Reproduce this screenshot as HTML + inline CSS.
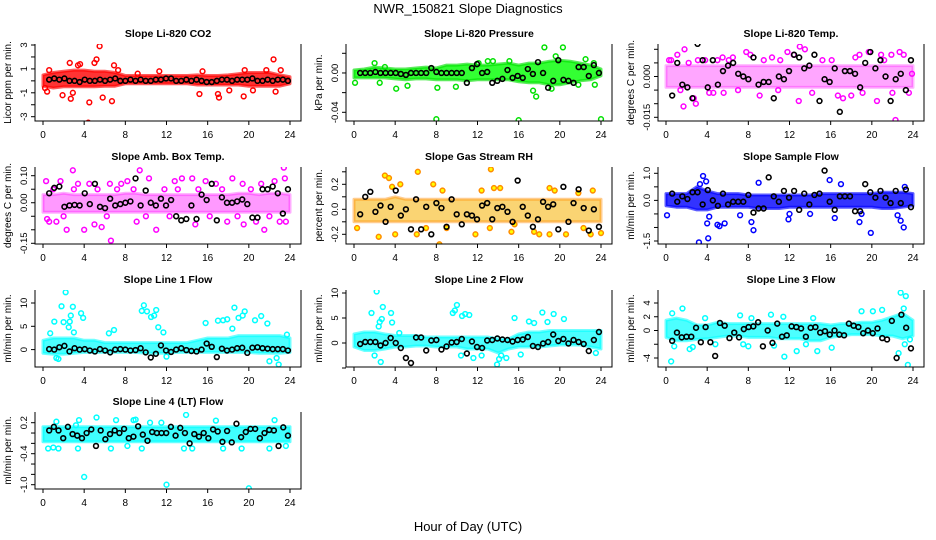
<!DOCTYPE html>
<html><head><meta charset="utf-8"><style>
body{margin:0;background:#fff;}
svg{display:block;font-family:"Liberation Sans",sans-serif;}
</style></head><body>
<svg id="c" width="936" height="540" viewBox="0 0 936 540">
<text x="468" y="13" text-anchor="middle" font-size="13">NWR_150821  Slope Diagnostics</text>
<text x="468" y="531" text-anchor="middle" font-size="13">Hour of Day (UTC)</text>
</svg>
<script>
// ---- data (values per panel) ----
const xTicks=[0,4,8,12,16,20,24];
// P1 CO2
const co2Hi=[0.5,0.7,0.8,0.9,0.9,0.8,0.8,0.7,0.45,0.45,0.45,0.45,0.45,0.45,0.45,0.5,0.45,0.45,0.5,0.6,0.7,0.7,0.7,0.5,0.35];
const co2Lo=[-0.45,-0.6,-0.5,-0.5,-0.5,-0.5,-0.45,-0.45,-0.25,-0.25,-0.25,-0.25,-0.25,-0.25,-0.25,-0.35,-0.35,-0.35,-0.35,-0.35,-0.45,-0.45,-0.45,-0.45,-0.25];
const co2PtT=[0.2,0.4,0.6,1.9,2.6,2.7,2.9,3.4,3.6,4.4,4.5,5.0,5.2,5.5,5.8,6.7,6.9,7.3,11.3,15.2,15.5,17.0,17.1,18.1,19.5,19.6,21.7,22.4,22.6,23.1,20.4,9.2];
const co2PtV=[-0.6,-0.9,0.9,-1.2,1.5,-1.5,-1.0,1.3,1.4,-3.5,-1.8,1.5,1.8,2.9,-1.4,-1.7,1.3,0.9,0.8,-1.1,0.8,-1.1,-1.4,-0.8,-1.3,0.9,0.9,1.8,-0.9,0.9,-0.8,0.6];
const co2Blk=[0.1,0.2,0.1,0.2,0.0,0.0,-0.1,0.1,0.0,0.0,0.1,0.0,0.1,0.2,0.0,0.0,0.1,0.0,0.1,0.0,0.0,0.1,0.1,0.2,0.2,0.0,0.0,0.1,0.0,0.1,0.0,-0.1,-0.1,0.0,0.1,0.1,0.0,0.1,0.1,0.1,0.2,0.0,0.0,0.1,0.0,0.1,0.1,0.0];
// P2 Pressure
const prsHi=[0.003,0.004,0.006,0.005,0.004,0.004,0.005,0.006,0.005,0.008,0.008,0.009,0.008,0.008,0.009,0.01,0.008,0.01,0.01,0.012,0.013,0.012,0.01,0.008,0.004];
const prsLo=[-0.005,-0.005,-0.005,-0.005,-0.006,-0.007,-0.006,-0.006,-0.007,-0.007,-0.007,-0.008,-0.007,-0.007,-0.007,-0.007,-0.009,-0.01,-0.01,-0.012,-0.012,-0.01,-0.008,-0.007,-0.003];
const prsPtT=[0.1,2.0,3.0,2.5,4.1,5.2,8.0,8.1,9.9,12.1,13.0,13.5,15.1,16.0,17.4,17.7,18.5,19.6,20.3,19.2,22.5,23.3,24.0,21.8,23.4];
const prsPtV=[-0.01,0.01,0.006,-0.01,-0.016,-0.013,-0.047,-0.015,-0.014,0.01,0.012,0.012,0.012,-0.048,-0.018,-0.024,0.026,0.017,0.026,-0.016,0.014,0.01,-0.047,-0.012,-0.012];
const prsBlk=[0,0,0,0.001,0,0,0,0,-0.001,-0.002,0,0,0,0,0.005,0.001,0,0,0,0,0,-0.01,0.005,0.009,0,0.001,-0.01,-0.008,-0.006,0.003,-0.005,-0.003,-0.005,0.004,-0.001,0.011,0,-0.015,-0.008,0.013,-0.007,-0.008,-0.01,0.006,0.006,-0.003,0.008,0];
// P3 Li-820 Temp
const tmpHi=[0.004,0.004,0.004,0.004,0.004,0.004,0.004,0.004,0.004,0.004,0.004,0.004,0.004,0.004,0.004,0.004,0.004,0.004,0.004,0.004,0.004,0.004,0.004,0.004,0.004];
const tmpLo=[-0.004,-0.004,-0.004,-0.004,-0.004,-0.004,-0.004,-0.004,-0.004,-0.004,-0.004,-0.004,-0.004,-0.004,-0.004,-0.004,-0.004,-0.004,-0.004,-0.004,-0.004,-0.004,-0.004,-0.004,-0.004];
const tmpPtT=[0.5,1.1,1.8,1.4,1.7,2.7,2.9,3.8,4.6,5.5,5.6,6.5,7.8,8.2,9.1,10.3,10.9,11.8,12.4,12.9,13.0,13.5,16.7,17.2,18.8,18.0,19.7,20.5,20.9,21.9,22.3,22.7,23.1,23.6,23.9,0.3,2.2,3.1,4.2,5.0,6.1,7.0,9.5,11.1,14.2,15.2,16.1,18.4,19.1,21.2,22.0];
const tmpPtV=[0.006,0.008,0.010,-0.005,-0.011,-0.008,-0.010,0.006,-0.006,0.007,-0.006,0.007,0.009,0.008,-0.007,0.007,-0.005,0.009,0.008,-0.009,0.011,0.010,-0.007,-0.008,0.008,-0.007,0.009,-0.009,0.008,0.008,-0.016,0.009,0.008,-0.006,0.001,0.006,0.005,0.006,-0.006,0.006,0.006,-0.005,0.006,0.006,-0.006,0.006,0.006,0.007,-0.006,0.006,-0.006];
const tmpBlk=[-0.007,0.005,-0.003,-0.004,-0.008,0.012,0.006,-0.004,0.006,-0.003,0.002,0.004,0.005,0.001,0.000,-0.001,0.007,-0.003,-0.002,-0.002,-0.008,0.000,-0.001,0.002,0.008,0.007,0.003,0.004,0.008,-0.009,-0.001,-0.002,0.003,-0.013,0.002,0.002,0.001,-0.004,0.005,0.009,0.003,0.006,0.000,-0.009,-0.001,0.001,-0.005,0.006];
// P4 Amb Box Temp
const ambHi=[0.03,0.03,0.035,0.03,0.03,0.03,0.03,0.03,0.035,0.035,0.03,0.03,0.03,0.03,0.03,0.03,0.03,0.03,0.03,0.035,0.035,0.03,0.035,0.035,0.03];
const ambLo=[-0.035,-0.035,-0.035,-0.035,-0.035,-0.035,-0.035,-0.035,-0.035,-0.035,-0.035,-0.035,-0.035,-0.035,-0.035,-0.035,-0.035,-0.035,-0.035,-0.035,-0.035,-0.035,-0.035,-0.035,-0.035];
const ambPtT=[0.3,0.4,0.6,1.3,1.7,2.3,2.9,3.4,4.0,4.5,5.0,5.7,6.6,6.5,7.6,8.2,9.4,9.1,10.3,11.0,12.8,13.5,14.5,14.8,15.8,16.8,17.9,18.4,19.4,19.5,20.7,21.5,21.2,22.5,23.0,23.4,23.5,23.6,1.0,2.0,3.0,5.3,6.2,7.2,8.8,10.0,11.8,12.3,13.1,15.1,16.2,17.4,18.9,20.2,22.0];
const ambPtV=[0.08,-0.06,-0.07,-0.07,0.08,-0.1,0.12,0.07,-0.1,0.07,-0.08,-0.09,-0.14,0.07,0.07,0.08,0.12,-0.07,0.09,-0.1,0.08,0.09,0.09,-0.08,0.08,0.07,-0.07,0.09,0.07,-0.08,-0.07,-0.1,0.07,0.08,-0.07,0.13,0.09,-0.07,0.05,-0.05,0.05,0.05,-0.05,0.05,0.05,-0.05,0.05,-0.05,0.05,0.05,-0.05,0.05,-0.05,0.05,-0.05];
const ambBlk=[0.035,0.055,0.06,-0.015,-0.01,-0.008,-0.01,0.035,-0.005,0.07,-0.015,-0.02,0.015,-0.01,-0.005,0.0,0.005,0.09,-0.01,0.045,0.0,-0.01,0.015,-0.01,0.01,-0.05,-0.065,-0.06,-0.01,-0.06,0.03,0.01,0.07,-0.065,0.02,0.0,0.0,0.005,0.012,-0.005,-0.055,-0.055,0.05,0.05,0.06,0.035,-0.04,0.05];
// P5 Gas Stream RH
const rhHi=[0.08,0.08,0.08,0.08,0.1,0.08,0.08,0.08,0.08,0.08,0.08,0.08,0.08,0.08,0.08,0.08,0.08,0.08,0.08,0.08,0.08,0.08,0.08,0.08,0.08];
const rhLo=[-0.1,-0.1,-0.1,-0.1,-0.1,-0.1,-0.1,-0.1,-0.1,-0.1,-0.1,-0.1,-0.1,-0.1,-0.1,-0.1,-0.1,-0.1,-0.1,-0.1,-0.1,-0.1,-0.1,-0.1,-0.1];
const rhPtT=[0.3,2.4,3.0,3.4,3.7,4.5,4.0,6.2,6.1,7.0,7.7,8.3,8.6,9.0,11.8,12.4,13.3,13.2,13.6,14.2,15.3,15.6,17.5,18.0,19.0,19.5,19.0,20.6,21.8,22.3,23.0,23.2,24.0];
const rhPtV=[-0.15,-0.22,0.27,0.25,0.18,0.2,-0.2,0.3,-0.2,-0.15,0.2,-0.28,0.15,-0.15,-0.2,0.15,0.32,-0.15,0.17,0.17,-0.18,-0.12,-0.18,-0.2,0.17,0.15,-0.2,-0.2,0.13,-0.15,-0.2,0.15,-0.19];
const rhBlk=[-0.04,0.1,0.14,-0.02,0.03,-0.1,0.02,0.15,-0.05,0.0,-0.16,0.08,-0.16,0.02,-0.2,0.05,0.01,-0.14,0.08,-0.04,-0.12,-0.04,-0.05,-0.08,0.03,0.05,-0.08,0.01,0.02,-0.02,-0.1,0.23,0.02,-0.05,-0.14,-0.08,0.06,0.02,0.04,-0.16,0.18,-0.1,0.05,0.16,0.01,-0.17,0.0,-0.14];
// P6 Sample Flow
const smpHi=[0.25,0.25,0.25,0.5,0.35,0.25,0.25,0.25,0.2,0.2,0.2,0.2,0.2,0.2,0.2,0.25,0.25,0.25,0.25,0.25,0.25,0.3,0.3,0.3,0.25];
const smpLo=[-0.2,-0.25,-0.25,-0.35,-0.35,-0.25,-0.25,-0.25,-0.25,-0.3,-0.3,-0.3,-0.25,-0.25,-0.25,-0.25,-0.25,-0.25,-0.25,-0.25,-0.25,-0.3,-0.3,-0.25,-0.2];
const smpPtT=[0.1,3.2,3.3,3.6,3.9,4.0,4.1,4.2,5.0,5.2,5.7,7.2,8.3,8.5,9.0,11.9,12.0,14.0,15.9,16.4,17.0,18.8,19.0,19.9,22.5,22.8,23.1,23.2];
const smpPtV=[-0.55,-1.55,0.6,0.9,0.7,-0.85,-1.4,-0.6,-0.9,-0.95,-0.85,-0.55,-0.8,-1.1,0.65,-0.7,-0.5,-0.5,0.75,-0.65,0.6,-0.8,-0.5,-1.2,-0.55,-0.75,-1.0,0.5];
const smpBlk=[0.25,-0.05,0.15,0.05,0.3,0.3,-0.15,0.38,0.0,-0.2,0.25,-0.15,-0.05,-0.05,-0.05,0.2,-0.45,-0.3,-0.3,0.85,0.15,-0.05,0.35,0.1,0.35,-0.35,0.25,-0.15,0.2,0.25,1.1,-0.05,-0.35,0.15,0.15,0.15,-0.4,-0.4,0.6,0.3,0.1,0.35,0.1,-0.1,0.35,-0.1,0.4,-0.25];
// P7 Line 1 Flow
const l1Hi=[2,2.5,2.5,2.5,2,2,1.5,1.5,1.5,1.5,1.5,1.5,1.5,1.5,1.5,2,2.5,2.5,2.5,3,3,3,3,3,2.5];
const l1Lo=[-0.8,-1,-1,-0.8,-0.6,-0.6,-0.6,-0.6,-0.6,-0.6,-0.8,-0.8,-0.8,-0.6,-0.6,-0.6,-0.6,-0.6,-0.6,-0.6,-0.6,-0.8,-0.8,-0.8,-0.6];
const l1PtT=[0.7,1.1,1.3,1.5,1.8,2.0,2.2,2.5,2.6,2.7,2.9,3.0,3.7,3.9,6.4,6.9,9.6,9.8,10.1,10.5,10.8,11.0,11.2,11.7,12.0,15.8,17.0,17.5,17.9,18.4,18.6,19.0,19.4,19.6,20.6,21.2,21.8,22.0,22.7,22.9,23.7];
const l1PtV=[3.5,6,-1.8,-2,9.3,5.9,12.3,4.8,6,7.3,9.2,3.7,7.8,6.8,3.5,4.2,8.3,9.5,8.2,7,7.3,8.5,4.8,3.7,-1.5,5.7,6.2,6.3,6.5,4.5,9,6.8,7.3,8.2,6.3,7.2,5.6,-2.5,-1.8,-3.2,3.2];
const l1Blk=[0.1,0,0.5,0.8,-0.4,0.3,0,0.1,-0.2,-0.4,0.1,-0.2,-0.6,0,0.1,0,-0.2,-0.1,0.3,-0.6,-1.7,-0.9,0.9,-0.2,-0.5,0,0.3,-0.1,-0.3,-0.4,0,1.3,0.6,-1.6,0.2,-0.2,0,0.3,0.4,-0.7,0.4,0.5,0.3,0.2,0.1,0.1,0.1,-0.2];
// P8 Line 2 Flow
const l2Hi=[1.8,2.2,2.2,1.8,1.5,1.5,1.5,1.2,1.2,1.2,1.2,1.2,1.2,1.2,0.8,0.8,1.8,2.2,2.2,2.5,2.5,2.5,2.5,2.5,2.5];
const l2Lo=[-0.8,-1.5,-1.5,-1.2,-0.8,-0.8,-0.6,-0.6,-0.8,-0.8,-0.8,-1.2,-1.2,-1.2,-2,-1.2,-0.8,-0.8,-0.8,-0.6,-0.4,-0.4,-0.4,-0.8,-1.2];
const l2PtT=[1.7,2.0,2.2,2.4,2.5,2.7,2.8,2.6,3.6,3.7,4.4,9.6,9.8,10.0,10.5,10.8,11.2,10.4,11.6,12.4,13.9,14.1,14.3,14.8,15.6,16.2,17.0,17.5,18.3,18.8,19.4,20.4,23.5];
const l2PtV=[6,-2.5,10.3,3.3,4.2,4.8,7.2,-3.8,6,4.1,2,6,6.5,7.6,5.4,5.8,5.6,-2.5,-3,-2.5,-4.3,-3.2,-2.5,-3,5,-2.3,4.3,4,6.1,4.2,5.8,4.8,-2];
const l2Blk=[-0.2,0.2,0.2,0.2,-0.5,0,1,0,-1,-3,-4,1.1,1.1,-1.5,0.5,0.6,-1.3,-0.7,0.1,0.2,0.8,-2.1,0.3,-0.8,-1,0.5,0.6,0.9,0.7,0.6,0.3,0.6,0.7,1.2,-0.6,-0.8,-0.1,0.2,1.7,0.4,0.8,-0.1,0.6,0.2,-0.2,-1.6,0.6,2.2];
// P9 Line 3 Flow
const l3Hi=[1.5,1.8,1.5,0.8,0.8,1.2,1,1,1,1,1,1,1,1,1,1,0.8,1,1,1.2,1.2,1.5,2,2.5,1.5];
const l3Lo=[-1,-1.5,-1.5,-1.3,-1.2,-1,-0.8,-0.8,-1,-1,-1,-1.2,-1.2,-1.2,-1.5,-1.5,-1,-0.8,-0.6,-0.6,-0.6,-0.8,-0.8,-1.2,-0.8];
const l3PtT=[0.5,0.6,0.8,1.6,2.3,2.6,3.8,4.8,7.2,7.5,8.0,8.3,10.2,10.5,11.4,11.5,12.7,13.6,14.3,14.7,16.1,19.0,20.1,21.0,22.8,23.1,23.3,22.6,23.5,23.2,23.7];
const l3PtV=[-4.5,2.5,-2.3,3.2,-2.7,-2.4,1.8,-2,2.2,-2,-2.3,1.8,2.3,-2.2,2,-3.8,-3,-2,1.8,-3,-2.5,2.8,2.8,3,5.5,3.2,5,-3.3,-5,-2,-1.3];
const l3Blk=[-1.5,-0.3,-1,-0.9,-0.9,0.4,-1.7,0.5,-1.7,-3.7,1.1,0.7,-1.1,-0.3,-1,0.2,0.5,0.6,1.2,-2.3,0,-1.8,1,-0.9,-0.7,0.6,0.5,0.3,-0.9,0.4,0.5,-0.3,-0.1,-0.6,0,-0.6,-0.7,1,0.7,0.5,-0.4,0,-0.4,0.3,-1.1,-1.3,1.4,-4,2.3,0.4,-2.6];
// P10 Line 4 (LT) Flow
const l4Hi=[0.12,0.12,0.12,0.12,0.12,0.12,0.12,0.12,0.12,0.12,0.12,0.12,0.12,0.12,0.12,0.12,0.12,0.12,0.12,0.12,0.12,0.12,0.12,0.12,0.12];
const l4Lo=[-0.17,-0.17,-0.17,-0.17,-0.17,-0.17,-0.17,-0.17,-0.17,-0.17,-0.17,-0.17,-0.17,-0.17,-0.17,-0.17,-0.17,-0.17,-0.17,-0.17,-0.17,-0.17,-0.17,-0.17,-0.17];
const l4PtT=[0.5,1.0,1.5,1.3,3.2,3.5,3.4,4.0,5.2,6.6,7.1,8.2,8.8,9.0,9.6,10.4,12.0,11.5,13.9,13.7,14.5,16.8,17.5,19.3,20.0,22.0,22.5,23.6];
const l4PtV=[-0.3,-0.28,-0.3,0.22,0.15,0.25,-0.3,-0.85,0.3,-0.3,0.25,-0.25,0.25,0.26,-0.3,0.2,-1.0,0.2,0.35,-0.3,-0.3,0.24,-0.3,-0.3,-1.07,-0.3,0.25,-0.25];
const l4Blk=[0.05,0.12,0.05,-0.1,0.12,-0.02,-0.05,-0.1,0.0,0.07,-0.25,0.05,-0.12,-0.02,0.05,0.0,0.08,-0.1,-0.07,0.13,-0.03,-0.15,0.02,0.0,0.0,0.0,0.12,-0.05,0.1,0.0,-0.2,-0.02,-0.07,0.0,-0.1,0.07,0.03,-0.17,0.04,-0.18,0.18,-0.08,0.02,0.08,0.08,-0.1,0.0,0.06,0.05,-0.25,0.11,-0.05];

const panels=[
 {title:"Slope Li-820 CO2",yl:"Licor ppm per min.",col:"#ff0000",fill:"#ff0000",op:0.8,hi:co2Hi,lo:co2Lo,pt:co2PtT,pv:co2PtV,blk:co2Blk,c:0,r:0,a:[3,45],b:[-3,116.7],ticks:[3,2,1,0,-1,-2,-3],labs:[3,1,-1,-3],fmt:v=>v<0?"-"+(-v):""+v},
 {title:"Slope Li-820 Pressure",yl:"kPa per min.",col:"#00e000",fill:"#00ff00",op:0.8,hi:prsHi,lo:prsLo,pt:prsPtT,pv:prsPtV,blk:prsBlk,c:1,r:0,a:[0.02,53.3],b:[-0.04,112.3],ticks:[0.02,0,-0.02,-0.04],labs:[0,-0.04],fmt:v=>f(v,2)},
 {title:"Slope Li-820 Temp.",yl:"degrees C per min.",col:"#ff00ff",fill:"#ff00ff",op:0.35,hi:tmpHi,lo:tmpLo,pt:tmpPtT,pv:tmpPtV,blk:tmpBlk,c:2,r:0,a:[0.01,49.3],b:[-0.015,117.3],ticks:[0.01,0.005,0,-0.005,-0.01,-0.015],labs:[0,-0.015],fmt:v=>f(v,3)},
 {title:"Slope Amb. Box Temp.",yl:"degrees C per min.",col:"#ff00ff",fill:"#ff00ff",op:0.4,hi:ambHi,lo:ambLo,pt:ambPtT,pv:ambPtV,blk:ambBlk,c:0,r:1,a:[0.1,175.7],b:[-0.15,243.3],ticks:[0.1,0.05,0,-0.05,-0.1,-0.15],labs:[0.1,0,-0.15],fmt:v=>f(v,2)},
 {title:"Slope Gas Stream RH",yl:"percent per min.",col:"#ff8c00",fill:"#f5b000",op:0.55,hi:rhHi,lo:rhLo,pt:rhPtT,pv:rhPtV,blk:rhBlk,c:1,r:1,a:[0.2,184.3],b:[-0.2,234.3],ticks:[0.3,0.2,0.1,0,-0.1,-0.2],labs:[0.2,0,-0.2],fmt:v=>f(v,1)},
 {title:"Slope Sample Flow",yl:"ml/min per min.",col:"#0000ff",fill:"#0000ff",op:0.8,hi:smpHi,lo:smpLo,pt:smpPtT,pv:smpPtV,blk:smpBlk,c:2,r:1,a:[1,173.3],b:[-1.5,241],ticks:[1,0.5,0,-0.5,-1,-1.5],labs:[1,0,-1.5],fmt:v=>f(v,1)},
 {title:"Slope Line 1 Flow",yl:"ml/min per min.",col:"#00ffff",fill:"#00ffff",op:0.7,hi:l1Hi,lo:l1Lo,pt:l1PtT,pv:l1PtV,blk:l1Blk,c:0,r:2,a:[10,303],b:[0,349.6],ticks:[10,5,0],labs:[10,5,0],fmt:v=>""+v},
 {title:"Slope Line 2 Flow",yl:"ml/min per min.",col:"#00ffff",fill:"#00ffff",op:0.7,hi:l2Hi,lo:l2Lo,pt:l2PtT,pv:l2PtV,blk:l2Blk,c:1,r:2,a:[10,293],b:[0,343],ticks:[10,5,0,-5],labs:[10,5,0],fmt:v=>""+v},
 {title:"Slope Line 3 Flow",yl:"ml/min per min.",col:"#00ffff",fill:"#00ffff",op:0.7,hi:l3Hi,lo:l3Lo,pt:l3PtT,pv:l3PtV,blk:l3Blk,c:2,r:2,a:[4,303],b:[-4,358],ticks:[4,2,0,-2,-4],labs:[4,2,0,-4],fmt:v=>v<0?"-"+(-v):""+v},
 {title:"Slope Line 4 (LT) Flow",yl:"ml/min per min.",col:"#00ffff",fill:"#00ffff",op:0.75,hi:l4Hi,lo:l4Lo,pt:l4PtT,pv:l4PtV,blk:l4Blk,c:0,r:3,a:[0.2,422.7],b:[-1.0,484.7],ticks:[0.2,0,-0.2,-0.4,-0.6,-0.8,-1.0],labs:[0.2,-0.4,-1.0],fmt:v=>f(v,1)}
];
function f(v,d){const s=Math.abs(v).toFixed(d);return (v<0?"-":"")+s;}
const NS="http://www.w3.org/2000/svg";
const svg=document.getElementById('c');
const lefts=[35,346,658],tops=[44,167,290,412],W=266,H=77;
function mk(tag,attrs,parent){const e=document.createElementNS(NS,tag);for(const k in attrs)e.setAttribute(k,attrs[k]);(parent||svg).appendChild(e);return e;}
panels.forEach((p,i)=>{
  const L=lefts[p.c],T=tops[p.r],B=T+H,R=L+W;
  const g=mk('g',{});
  
  
  const xs=t=>L+8+t*(247/24);
  const ys=v=>p.a[1]+(v-p.a[0])*(p.b[1]-p.a[1])/(p.b[0]-p.a[0]);
  const clip=mk('clipPath',{id:'cl'+i},g);mk('rect',{x:L,y:T,width:W,height:H},clip);
  const pg=mk('g',{'clip-path':'url(#cl'+i+')'},g);
  let d="";p.hi.forEach((v,k)=>{d+=(k?"L":"M")+xs(k*24/(p.hi.length-1)).toFixed(1)+","+ys(v).toFixed(1);});
  for(let k=p.lo.length-1;k>=0;k--)d+="L"+xs(k*24/(p.lo.length-1)).toFixed(1)+","+ys(p.lo[k]).toFixed(1);
  const band=mk('path',{d:d+"Z",fill:p.fill,'fill-opacity':p.op,stroke:p.col,'stroke-width':3,'stroke-opacity':p.op*0.8,'stroke-linejoin':'round'},pg);
  
  
  p.pt.forEach((t,k)=>{
    const c=mk('circle',{cx:xs(t),cy:ys(p.pv[k]),r:2.4,fill:p.c===1&&p.r===1?'#ffff00':'none',stroke:p.col,'stroke-width':1.5},pg);
    
    
  });
  p.blk.forEach((v,k)=>{
    const t=0.6+k*(23.2/(p.blk.length-1));
    const c=mk('circle',{cx:xs(t),cy:ys(v),r:2.4,fill:'none',stroke:'#000','stroke-width':1.6},pg);
    
    
  });
  const fr=mk('path',{d:`M${L},${T}V${B}H${R}V${T}`,fill:'none',stroke:'#000','stroke-width':1},g);
  
  
  xTicks.forEach(t=>{
    mk('line',{x1:xs(t),x2:xs(t),y1:B,y2:B+4,stroke:'#000'},g);
    const tx=mk('text',{x:xs(t),y:B+17,'text-anchor':'middle','font-size':10},g);tx.textContent=t;
    
    
  });
  p.ticks.forEach(v=>mk('line',{x1:L-4,x2:L,y1:ys(v),y2:ys(v),stroke:'#000'},g));
  p.labs.forEach(v=>{
    const y=ys(v);const tx=mk('text',{x:L-8,y:y,transform:`rotate(-90 ${L-8} ${y})`,'text-anchor':'middle','font-size':9.5},g);
    tx.textContent=p.fmt(v);
    
    
  });
  const yt=mk('text',{x:L-24,y:T+H/2,transform:`rotate(-90 ${L-24} ${T+H/2})`,'text-anchor':'middle','font-size':10},g);
  yt.textContent=p.yl;
  
  
  const tt=mk('text',{x:L+W/2,y:T-7,'text-anchor':'middle','font-size':10.5,'font-weight':'bold'},g);
  tt.textContent=p.title;
  
  
});
</script>
</body></html>
